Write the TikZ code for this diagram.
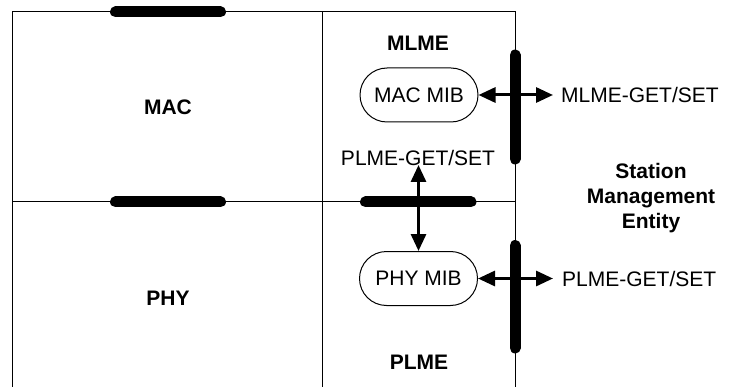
\documentclass[tikz,border=0pt]{standalone}
\usepackage{fontspec}
\setmainfont{Liberation Sans}
\usetikzlibrary{arrows.meta}
\begin{document}
\begin{tikzpicture}[x=1pt,y=-1pt,
  font=\fontsize{21}{25}\selectfont,
  frame/.style={line width=1pt},
  bar/.style={line width=11pt,line cap=round},
  mib/.style={draw,line width=1pt,minimum width=118pt,minimum height=54pt,rounded corners=27pt,inner sep=0pt},
  biarrow/.style={line width=3pt,{Triangle[length=17pt,width=15pt]}-{Triangle[length=17pt,width=15pt]}},
  lbl/.style={inner sep=0pt},
  blbl/.style={inner sep=0pt,font=\fontsize{21}{25}\selectfont\bfseries}]
\useasboundingbox (0,0) rectangle (751,387);
% frame
\draw[frame] (12,387) -- (12,12) -- (515,12) -- (515,387);
\draw[frame] (322,12) -- (322,387);
\draw[frame] (12,202) -- (515,202);
% thick bars
\draw[bar] (115.5,12) -- (220.5,12);
\draw[bar] (115.5,202) -- (220.5,202);
\draw[bar] (365.5,202) -- (471,202);
\draw[bar] (515,55) -- (515,159);
\draw[bar] (515,245.5) -- (515,348);
% labels
\node[blbl] (mac) at (168,107) {MAC};
\node[blbl] (phy) at (168,298) {PHY};
\node[blbl] (mlme) at (418,43) {MLME};
\node[blbl] (plme) at (419,362) {PLME};
\node[blbl,align=center] (sme) at (651,198) {Station\\Management\\Entity};
% MIB nodes
\node[mib] (macmib) at (419,95) {MAC MIB};
\node[mib] (phymib) at (418.5,278.5) {PHY MIB};
% GET/SET labels
\node[lbl,anchor=west] (mlmegs) at (561,95) {MLME-GET/SET};
\node[lbl,anchor=west] (plmegs) at (562,278.5) {PLME-GET/SET};
\node[lbl] (plmegsup) at (418,158) {PLME-GET/SET};
% arrows
\coordinate (mlmeend) at (553,95);
\coordinate (plmeend) at (553,278.5);
\coordinate (vtop) at (418.5,165);
\draw[biarrow] (macmib.east) -- (mlmeend);
\draw[biarrow] (phymib.east) -- (plmeend);
\draw[biarrow] (vtop) -- (phymib.north);
\end{tikzpicture}
\end{document}
